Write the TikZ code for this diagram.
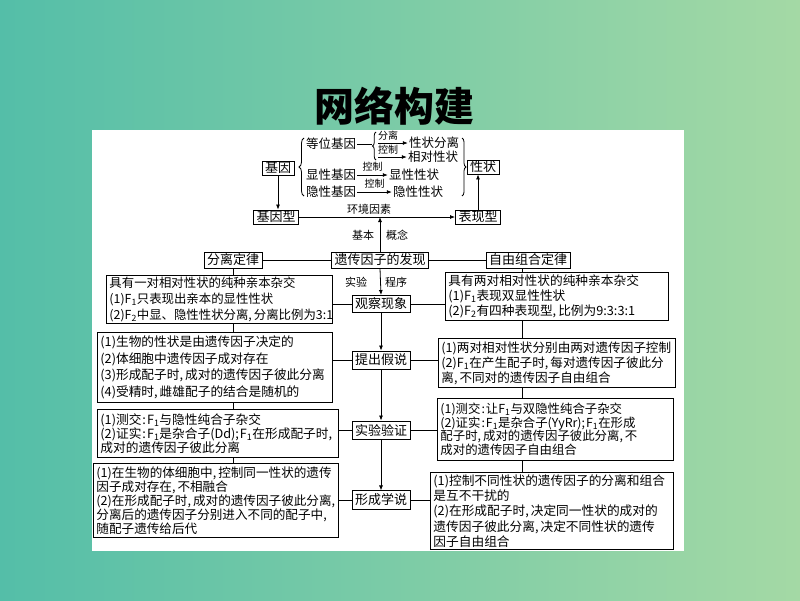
\documentclass[tikz,border=0pt]{standalone}
\usepackage{fontspec}
\setmainfont{Noto Sans CJK SC}
\usetikzlibrary{arrows.meta,decorations.pathreplacing}
\newcommand{\Fsub}[1]{F\textsubscript{#1}}
\newcommand{\cma}{,\kern2pt\relax}
\newcommand{\smc}{;\kern1pt\relax}
\newcommand{\cln}{\kern1pt:\kern1pt\relax}
\begin{document}
\begin{tikzpicture}[x=1pt,y=-1pt,
  box/.style={draw, line width=0.9pt, inner xsep=3pt, inner ysep=2pt, font=\fontsize{13}{15}\selectfont},
  sbox/.style={draw, line width=0.9pt, inner xsep=3pt, inner ysep=3pt, font=\fontsize{13}{15}\selectfont},
  tbox/.style n args={2}{draw, line width=0.9pt, align=left, inner xsep=3pt, inner ysep=1pt, anchor=north west, text width=#1, minimum height=#2},
  plain/.style={inner sep=1pt, font=\fontsize{12.5}{14}\selectfont},
  lbl/.style={inner sep=0pt, font=\fontsize{10}{12}\selectfont},
  mlbl/.style={inner sep=0pt, font=\fontsize{11}{13}\selectfont},
  arr/.style={-{Latex[length=5pt,width=4pt]}, line width=0.8pt},
  ln/.style={line width=0.8pt},
  brc/.style={decorate, decoration={brace, amplitude=#1}, line width=0.8pt}]
% background
\useasboundingbox (0,0) rectangle (800,600);
\shade[left color={rgb,255:red,84;green,190;blue,168}, right color={rgb,255:red,164;green,217;blue,165}] (0,0) rectangle (800,600);
\fill[white] (92,130) rectangle (684,551);
\node[font=\fontsize{40}{44}\selectfont\bfseries, inner sep=0pt] (title) at (394,106) {网络构建};
% ---------- top section ----------
\node[box, inner ysep=1pt] (jy) at (278,168) {基因};
\node[box, inner ysep=1pt] (xz) at (483,167) {性状};
\node[box, inner ysep=1pt] (jyx) at (276,217) {基因型};
\node[box, inner ysep=1pt] (bxx) at (478,217) {表现型};
\node[plain] (dw) at (331,144) {等位基因};
\node[plain] (fl1) at (434,143) {性状分离};
\node[plain] (xd) at (433,157) {相对性状};
\node[plain] (xj) at (331,175) {显性基因};
\node[plain] (xx) at (414,175) {显性性状};
\node[plain] (yj) at (331,192) {隐性基因};
\node[plain] (yx) at (418,192) {隐性性状};
% braces
\draw[brc=5pt] (304,196) -- (304,138);
\draw[brc=4pt] (462,138) -- (462,196);
\draw[brc=3.5pt] (376,160) -- (376,132);
\coordinate (bt) at (372,146);
\coordinate (bu) at (378,143);
\coordinate (bl) at (378,157);
\draw[ln] (dw.east) -- (dw.east -| bt);
\draw[arr] (bu) -- (bu -| fl1.west);
\draw[arr] (bl) -- (bl -| xd.west);
\node[lbl] (l1) at (388,136) {分离};
\node[lbl] (l2) at (388,150) {控制};
\draw[arr] (xj.east) -- (xx.west) node[lbl, midway, above=3pt] {控制};
\draw[arr] (yj.east) -- (yx.west) node[lbl, midway, above=3pt] {控制};
\draw[arr] (jy.south) -- (jy.south |- jyx.north);
\draw[arr] (jyx.east) -- (bxx.west) node[mlbl, pos=0.45, above=2pt] {环境因素};
\draw[arr] (bxx.north) -- (bxx.north |- xz.south);
% ---------- spine ----------
\node[box] (fl) at (233,260) {分离定律};
\node[box] (yc) at (380,260) {遗传因子的发现};
\node[box] (zy) at (528,260) {自由组合定律};
\node[sbox, inner ysep=2.5pt] (gc) at (381,304) {观察现象};
\node[sbox] (tc) at (381,360) {提出假说};
\node[sbox] (sy) at (381,430) {实验验证};
\node[sbox] (xc) at (381,500) {形成学说};
\draw[arr] (yc.north) -- (yc.north |- jyx.east);
\node[mlbl] (jb) at (363,235) {基本};
\node[mlbl] (gn) at (397,235) {概念};
\node[mlbl] (syl) at (356,282) {实验};
\node[mlbl] (cx) at (396,282) {程序};
\draw[ln] (fl.east) -- (yc.west);
\draw[ln] (yc.east) -- (zy.west);
\draw[arr] (yc.south) -- (gc.north);
\draw[arr] (gc.south) -- (tc.north);
\draw[arr] (tc.south) -- (sy.north);
\draw[arr] (sy.south) -- (xc.north);
% ---------- left boxes ----------
\node[tbox={220pt}{48pt}, font=\fontsize{12.4}{16}\selectfont] (lb1) at (106,275) {具有一对相对性状的纯种亲本杂交\\(1)\Fsub{1}只表现出亲本的显性性状\\(2)\Fsub{2}中显、隐性性状分离\cma 分离比例为3:1};
\node[tbox={229pt}{70pt}, font=\fontsize{12.7}{16.5}\selectfont] (lb2) at (97,332) {(1)生物的性状是由遗传因子决定的\\(2)体细胞中遗传因子成对存在\\(3)形成配子时\cma 成对的遗传因子彼此分离\\(4)受精时\cma 雌雄配子的结合是随机的};
\node[tbox={235pt}{48pt}, font=\fontsize{12.7}{14}\selectfont] (lb3) at (97,409) {(1)测交\cln\Fsub{1}与隐性纯合子杂交\\(2)证实\cln\Fsub{1}是杂合子(Dd)\smc\Fsub{1}在形成配子时\cma\\成对的遗传因子彼此分离};
\node[tbox={239pt}{74pt}, font=\fontsize{12.6}{14}\selectfont] (lb4) at (93,463) {(1)在生物的体细胞中\cma 控制同一性状的遗传\\因子成对存在\cma 不相融合\\(2)在形成配子时\cma 成对的遗传因子彼此分离\cma\\分离后的遗传因子分别进入不同的配子中\cma\\随配子遗传给后代};
% ---------- right boxes ----------
\node[tbox={217pt}{48pt}, font=\fontsize{12.7}{14.7}\selectfont] (rb1) at (445,272) {具有两对相对性状的纯种亲本杂交\\(1)\Fsub{1}表现双显性性状\\(2)\Fsub{2}有四种表现型\cma 比例为9:3:3:1};
\node[tbox={231pt}{49pt}, font=\fontsize{12.6}{15}\selectfont] (rb2) at (438,338) {(1)两对相对性状分别由两对遗传因子控制\\(2)\Fsub{1}在产生配子时\cma 每对遗传因子彼此分\\离\cma 不同对的遗传因子自由组合};
\node[tbox={230pt}{62pt}, font=\fontsize{12.4}{13.6}\selectfont] (rb3) at (437,398) {(1)测交\cln 让\Fsub{1}与双隐性纯合子杂交\\(2)证实\cln\Fsub{1}是杂合子(YyRr)\smc\Fsub{1}在形成\\配子时\cma 成对的遗传因子彼此分离\cma 不\\成对的遗传因子自由组合};
\node[tbox={237pt}{77pt}, font=\fontsize{12.7}{15.2}\selectfont] (rb4) at (430,472) {(1)控制不同性状的遗传因子的分离和组合\\是互不干扰的\\(2)在形成配子时\cma 决定同一性状的成对的\\遗传因子彼此分离\cma 决定不同性状的遗传\\因子自由组合};
% ---------- connectors to boxes ----------
\coordinate (rx) at (522,260);
\draw[ln] (fl.south) -- (fl.south |- lb1.north);
\draw[ln] (fl.south |- lb1.south) -- (fl.south |- lb2.north);
\draw[ln] (fl.south |- lb2.south) -- (fl.south |- lb3.north);
\draw[ln] (fl.south |- lb3.south) -- (fl.south |- lb4.north);
\draw[ln] (rx |- zy.south) -- (rx |- rb1.north);
\draw[ln] (rx |- rb1.south) -- (rx |- rb2.north);
\draw[ln] (rx |- rb2.south) -- (rx |- rb3.north);
\draw[ln] (rx |- rb3.south) -- (rx |- rb4.north);
\draw[ln] (gc.west) -- (gc.west -| lb1.east);
\draw[ln] (gc.east) -- (gc.east -| rb1.west);
\draw[ln] (tc.west) -- (tc.west -| lb2.east);
\draw[ln] (tc.east) -- (tc.east -| rb2.west);
\draw[ln] (sy.west) -- (sy.west -| lb3.east);
\draw[ln] (sy.east) -- (sy.east -| rb3.west);
\draw[ln] (xc.west) -- (xc.west -| lb4.east);
\draw[ln] (xc.east) -- (xc.east -| rb4.west);
\end{tikzpicture}
\end{document}
